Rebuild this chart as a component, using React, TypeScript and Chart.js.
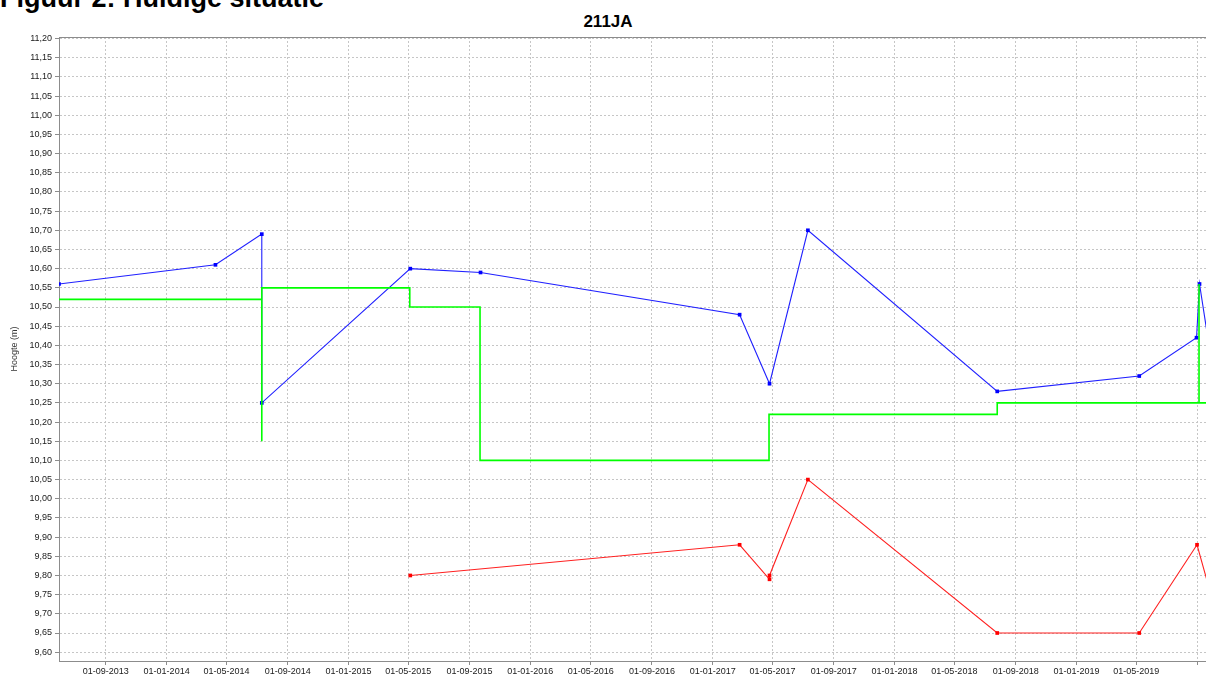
import React, { useEffect, useRef } from "react";
import { Chart, registerables } from "chart.js";

Chart.register(...registerables);

const pageHeading = "Figuur 2: Huidige situatie";
const chartTitle = "211JA";
const yAxisTitle = "Hoogte (m)";

const xRangeDates = ["2013-05-30", "2019-09-18"];
const yRange = [9.577, 11.204];

const xTickDates = [
  "2013-09-01", "2014-01-01", "2014-05-01", "2014-09-01", "2015-01-01", "2015-05-01",
  "2015-09-01", "2016-01-01", "2016-05-01", "2016-09-01", "2017-01-01", "2017-05-01",
  "2017-09-01", "2018-01-01", "2018-05-01", "2018-09-01", "2019-01-01", "2019-05-01",
  "2019-09-01",
];
const xTickLabels = [
  "01-09-2013", "01-01-2014", "01-05-2014", "01-09-2014", "01-01-2015", "01-05-2015",
  "01-09-2015", "01-01-2016", "01-05-2016", "01-09-2016", "01-01-2017", "01-05-2017",
  "01-09-2017", "01-01-2018", "01-05-2018", "01-09-2018", "01-01-2019", "01-05-2019",
  "",
];
const yTickValues = [
  9.6, 9.65, 9.7, 9.75, 9.8, 9.85, 9.9, 9.95, 10.0, 10.05, 10.1, 10.15, 10.2, 10.25,
  10.3, 10.35, 10.4, 10.45, 10.5, 10.55, 10.6, 10.65, 10.7, 10.75, 10.8, 10.85, 10.9,
  10.95, 11.0, 11.05, 11.1, 11.15, 11.2,
];

// Blue series
const blueDates = [
  "2013-05-30", "2014-04-09", "2014-07-11", "2014-07-11", "2015-05-05", "2015-09-23",
  "2017-02-24", "2017-04-25", "2017-07-11", "2018-07-26", "2019-05-07", "2019-08-30",
  "2019-09-05", "2019-09-30",
];
const blueValues = [
  10.56, 10.61, 10.69, 10.25, 10.6, 10.59, 10.48, 10.3, 10.7, 10.28, 10.32, 10.42, 10.56, 10.35,
];

// Red series
const redDates = [
  "2015-05-05", "2017-02-24", "2017-04-25", "2017-04-25", "2017-07-11", "2018-07-26",
  "2019-05-07", "2019-08-31", "2019-09-30",
];
const redValues = [9.8, 9.88, 9.79, 9.8, 10.05, 9.65, 9.65, 9.88, 9.74];

// Green series (step line)
const greenDates = [
  "2013-05-30", "2014-07-11", "2014-07-11", "2014-07-11", "2015-05-04", "2015-05-04",
  "2015-09-22", "2015-09-22", "2017-04-24", "2017-04-24", "2018-07-26", "2018-07-26",
  "2019-09-04", "2019-09-04", "2019-09-04", "2019-09-30",
];
const greenValues = [
  10.52, 10.52, 10.15, 10.55, 10.55, 10.5, 10.5, 10.1, 10.1, 10.22, 10.22, 10.25,
  10.25, 10.56, 10.25, 10.25,
];

const toMs = (s: string) => {
  const [y, m, d] = s.split("-").map(Number);
  return Date.UTC(y, m - 1, d);
};
const pts = (dates: string[], vals: number[]) => dates.map((d, i) => ({ x: toMs(d), y: vals[i] }));

const FONT = "'Liberation Sans', Arial, sans-serif";

export default function App() {
  const ref = useRef<HTMLCanvasElement | null>(null);

  useEffect(() => {
    document.body.style.margin = "0";
    const canvas = ref.current;
    if (!canvas) return;
    const tickMs = xTickDates.map(toMs);

    const topBorder = {
      id: "topBorder",
      afterDraw(chart: any) {
        const { ctx, chartArea } = chart;
        ctx.save();
        ctx.strokeStyle = "#8c8c8c";
        ctx.lineWidth = 1;
        ctx.beginPath();
        ctx.moveTo(chartArea.left, Math.round(chartArea.top) + 0.5);
        ctx.lineTo(chartArea.right, Math.round(chartArea.top) + 0.5);
        ctx.stroke();
        ctx.restore();
      },
    };

    const gridOpts = {
      color: "#c6c6c6",
      tickLength: 4,
      tickColor: "#8c8c8c",
      tickBorderDash: [],
    };

    const chart = new Chart(canvas, {
      type: "line",
      data: {
        datasets: [
          {
            label: "green",
            data: pts(greenDates, greenValues),
            borderColor: "#00ff00",
            backgroundColor: "#00ff00",
            borderWidth: 1.6,
            pointRadius: 0,
            tension: 0,
          },
          {
            label: "blue",
            data: pts(blueDates, blueValues),
            borderColor: "#2020ff",
            backgroundColor: "#0000ff",
            borderWidth: 1.1,
            pointRadius: 2.6,
            pointStyle: "rect",
            pointBorderWidth: 0,
            tension: 0,
          },
          {
            label: "red",
            data: pts(redDates, redValues),
            borderColor: "#ff2020",
            backgroundColor: "#ff0000",
            borderWidth: 1.1,
            pointRadius: 2.6,
            pointStyle: "rect",
            pointBorderWidth: 0,
            tension: 0,
          },
        ],
      },
      options: {
        animation: false,
        responsive: false,
        devicePixelRatio: 1,
        layout: { autoPadding: false, padding: { top: 37, left: 0, right: 0, bottom: 0 } },
        plugins: {
          legend: { display: false },
          tooltip: { enabled: false },
          title: { display: false },
        },
        scales: {
          x: {
            type: "linear",
            min: toMs(xRangeDates[0]),
            max: toMs(xRangeDates[1]),
            afterBuildTicks: (scale: any) => {
              scale.ticks = tickMs.map((v) => ({ value: v }));
            },
            afterFit: (scale: any) => {
              scale.height = 14;
            },
            ticks: {
              autoSkip: false,
              maxRotation: 0,
              padding: 1,
              color: "#1a1a1a",
              font: { family: FONT, size: 9 },
              callback: (value: any) => {
                const i = tickMs.indexOf(Number(value));
                return i >= 0 ? xTickLabels[i] : "";
              },
            },
            grid: gridOpts,
            border: { display: true, color: "#8c8c8c", width: 1, dash: [2, 2] },
          },
          y: {
            type: "linear",
            min: yRange[0],
            max: yRange[1],
            afterBuildTicks: (scale: any) => {
              scale.ticks = yTickValues.map((v) => ({ value: v }));
            },
            afterFit: (scale: any) => {
              scale.width = 59;
            },
            ticks: {
              autoSkip: false,
              padding: 3,
              color: "#1a1a1a",
              font: { family: FONT, size: 9 },
              callback: (value: any) => Number(value).toFixed(2).replace(".", ","),
            },
            grid: gridOpts,
            border: { display: true, color: "#8c8c8c", width: 1, dash: [2, 2] },
            title: {
              display: true,
              text: yAxisTitle,
              color: "#333",
              font: { family: FONT, size: 9 },
              padding: { top: 9.6, bottom: 0 },
            },
          },
        },
      } as any,
      plugins: [topBorder],
    });
    return () => chart.destroy();
  }, []);

  return (
    <div style={{ position: "fixed", left: 0, top: 0, width: 1206, height: 675, overflow: "hidden", background: "#fff" }}>
      <div
        style={{
          position: "absolute",
          left: 0,
          top: -15,
          fontFamily: FONT,
          fontWeight: "bold",
          fontSize: 27,
          lineHeight: "27px",
          whiteSpace: "nowrap",
          color: "#000",
        }}
      >
        {pageHeading}
      </div>
      <div
        style={{
          position: "absolute",
          left: 608,
          top: 12,
          transform: "translateX(-50%)",
          fontFamily: FONT,
          fontWeight: "bold",
          fontSize: 17,
          lineHeight: "20px",
          whiteSpace: "nowrap",
          color: "#000",
        }}
      >
        {chartTitle}
      </div>
      <canvas ref={ref} width={1206} height={675} style={{ position: "absolute", left: 0, top: 0 }} />
    </div>
  );
}
